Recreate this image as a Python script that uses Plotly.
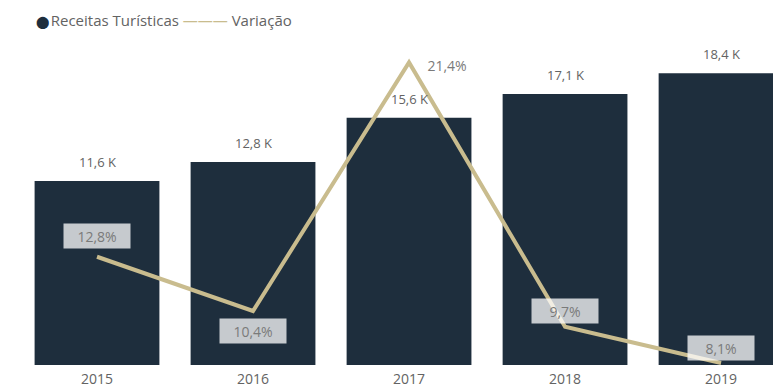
import plotly.graph_objects as go

# Receitas turísticas (milhares) e variação anual (%)
anos = ["2015", "2016", "2017", "2018", "2019"]
receitas = [11600, 12800, 15600, 17100, 18400]
variacao = [12.8, 10.4, 21.4, 9.7, 8.1]

NAVY = "#1E2E3D"
GOLD = "#C9BC8E"
TXT = "#636363"
FONT = "Segoe UI, Open Sans, sans-serif"


def fmt_k(v):
    return f"{v / 1000:.1f}".replace(".", ",") + " K"


def fmt_pct(v):
    return f"{v:.1f}".replace(".", ",") + "%"


fig = go.Figure()

fig.add_trace(go.Bar(
    x=anos, y=receitas, name="Receitas Turísticas",
    marker=dict(color=NAVY, line=dict(width=0)),
    showlegend=False,
))

fig.add_trace(go.Scatter(
    x=anos, y=variacao, name="Variação", yaxis="y2", mode="lines",
    line=dict(color=GOLD, width=4), cliponaxis=False, showlegend=False,
))

# value labels above the bars (category axis: annotations use the category index)
for i, v in enumerate(receitas):
    fig.add_annotation(
        x=i, y=v, xref="x", yref="y", text=fmt_k(v), showarrow=False,
        yanchor="bottom", yshift=8,
        font=dict(family=FONT, size=13, color=TXT),
    )

# data labels for the variation line; the peak label sits on the white background
offsets = [(0, 21), (0, -20), (38, -3), (0, 16), (0, 15)]
boxed = [True, True, False, True, True]
for i, (v, (dx, dy), b) in enumerate(zip(variacao, offsets, boxed)):
    fig.add_annotation(
        x=i, y=v, xref="x", yref="y2", text=fmt_pct(v), showarrow=False,
        xshift=dx, yshift=dy, width=60, height=18, borderpad=3,
        font=dict(family=FONT, size=14, color="#7A7A7A"),
        bgcolor="rgba(255,255,255,0.75)" if b else "rgba(0,0,0,0)",
    )

# legend row
fig.add_annotation(
    xref="paper", yref="paper", x=0.02, y=1.062, xanchor="left", yanchor="middle",
    showarrow=False,
    text=(f"<span style='color:{NAVY};font-size:12px;font-family:DejaVu Sans'>⬤</span>"
          f"<span style='font-size:5px'> </span>Receitas Turísticas "
          f"<span style='color:{GOLD}'>———</span> Variação"),
    font=dict(family=FONT, size=15, color=TXT),
)

fig.update_layout(
    width=773, height=389,
    margin=dict(l=19, r=0, t=40, b=24),
    plot_bgcolor="white", paper_bgcolor="white",
    bargap=0.2,
    showlegend=False,
    font=dict(family=FONT, color=TXT),
    xaxis=dict(type="category", range=[-0.5, 4.333], showgrid=False, zeroline=False,
               showline=False, tickfont=dict(size=14, color=TXT), ticks="",
               ticklabelstandoff=4),
    yaxis=dict(range=[0, 20500], showgrid=False, zeroline=False, showline=False,
               showticklabels=False, ticks=""),
    yaxis2=dict(range=[8.01, 22.39], overlaying="y", side="right", showgrid=False,
                zeroline=False, showline=False, showticklabels=False, ticks=""),
)

fig.write_html("out.html")
